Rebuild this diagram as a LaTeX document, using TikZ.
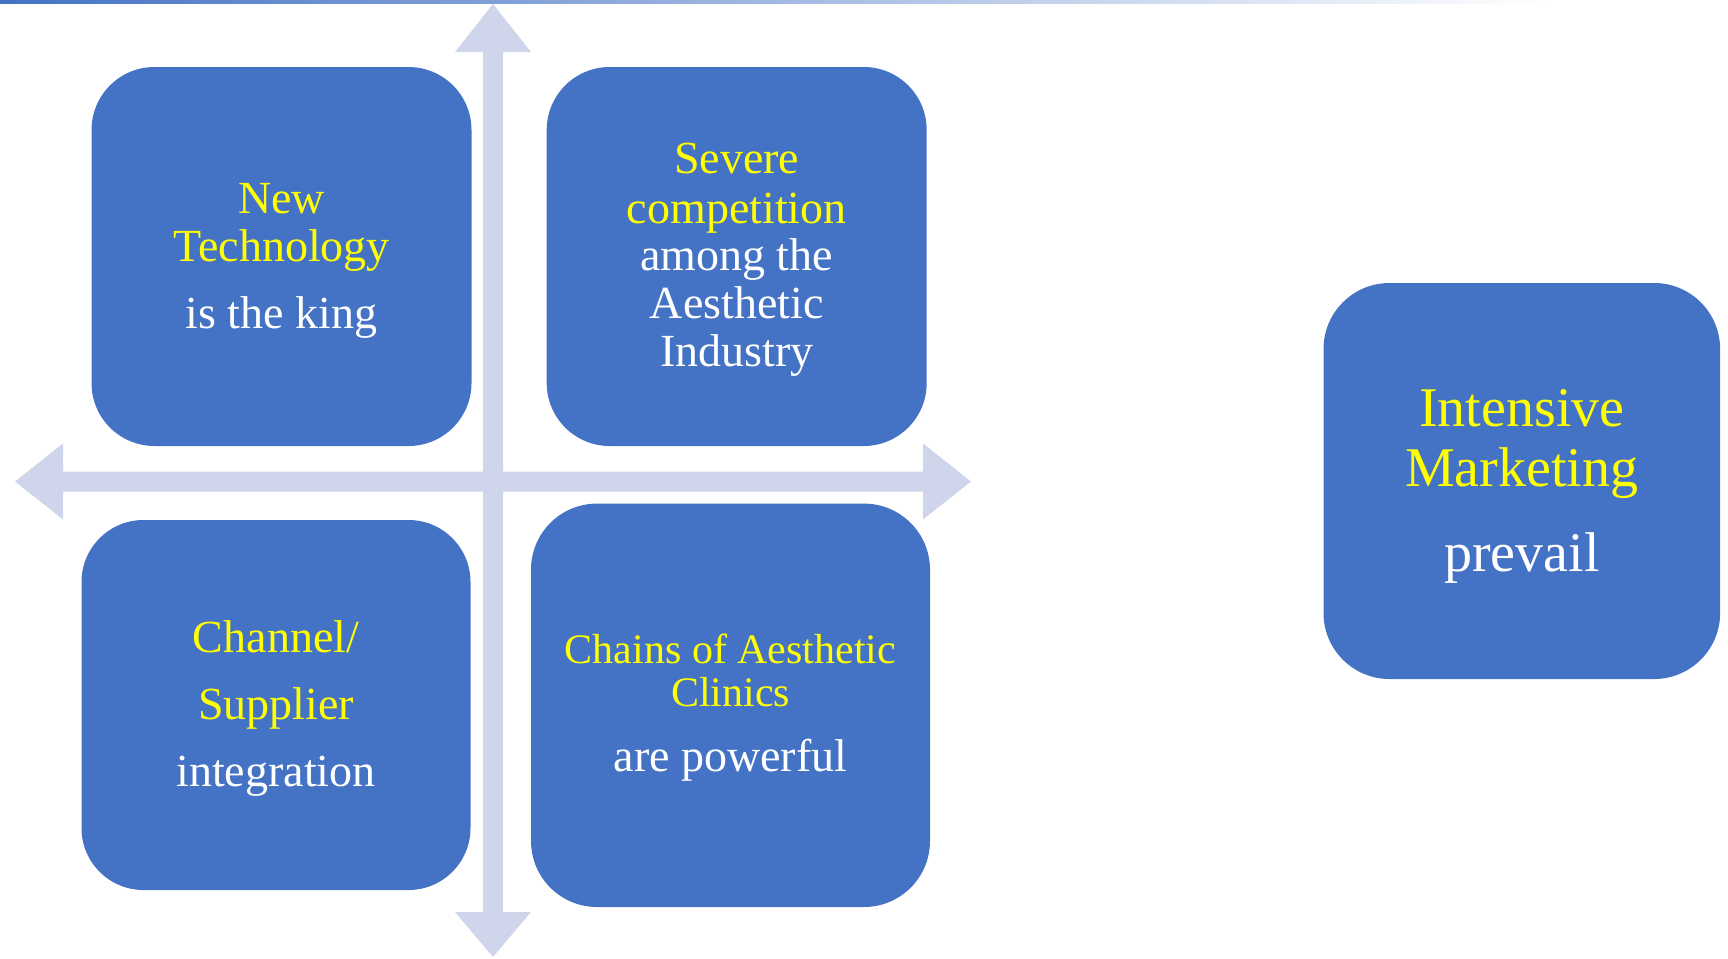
\documentclass[tikz,border=0pt]{standalone}
\usepackage{fontspec}
\setmainfont{Liberation Serif}
\definecolor{boxblue}{HTML}{4472C4}
\definecolor{arrowc}{HTML}{CFD5EA}
\definecolor{txtyellow}{HTML}{FFFF00}
\begin{document}
\begin{tikzpicture}[x=0.5pt,y=-0.5pt,
  box/.style={fill=boxblue, draw=none, rectangle, rounded corners=31.5pt, inner sep=0pt},
  yl/.style={text=txtyellow, inner sep=0pt, anchor=base, font=\fontsize{23}{27}\selectfont},
  wl/.style={text=white, inner sep=0pt, anchor=base, font=\fontsize{23}{27}\selectfont},
  ylsmall/.style={yl, font=\fontsize{21}{25}\selectfont},
  ylbig/.style={yl, font=\fontsize{28}{33}\selectfont},
  wlbig/.style={wl, font=\fontsize{28}{33}\selectfont}]
\useasboundingbox (0,0) rectangle (1728,958);
% top gradient rule
\shade[left color=boxblue, right color=white] (0,0) rectangle (1550,3.3);
% axes arrows
\fill[arrowc] (493,4) -- (531,52) -- (503,52) -- (503,912) -- (531,912) -- (493,957)
  -- (455,912) -- (483,912) -- (483,52) -- (455,52) -- cycle;
\fill[arrowc] (15,481.5) -- (63,443.5) -- (63,471.5) -- (923,471.5) -- (923,443.5) -- (971,481.5)
  -- (923,519.5) -- (923,491.5) -- (63,491.5) -- (63,519.5) -- cycle;
% boxes
\node[box, minimum width=190pt, minimum height=189.5pt] (tl) at (281.5,256.5) {};
\node[box, minimum width=190pt, minimum height=189.5pt] (tr) at (736.7,256.5) {};
\node[box, minimum width=194.5pt, minimum height=185pt, rounded corners=31pt] (bl) at (276,705) {};
\node[box, minimum width=199.5pt, minimum height=201.7pt, rounded corners=33pt] (br) at (730.5,705.3) {};
\node[box, minimum width=198.3pt, minimum height=198pt, rounded corners=33pt] (rt) at (1521.8,481) {};
% top-left text
\node[yl] (tl1) at (281.5,213) {New};
\node[yl] (tl2) at (281.5,261.7) {Technology};
\node[wl] (tl3) at (281.5,328) {is the king};
% top-right text
\node[yl] (tr1) at (736.7,173.3) {Severe};
\node[yl] (tr2) at (736.7,223.3) {competition};
\node[wl] (tr3) at (736.7,270) {among the};
\node[wl] (tr4) at (736.7,318.3) {Aesthetic};
\node[wl] (tr5) at (736.7,366.7) {Industry};
% bottom-left text
\node[yl] (bl1) at (276,652.3) {Channel/};
\node[yl] (bl2) at (276,719) {Supplier};
\node[wl] (bl3) at (276,786.7) {integration};
% bottom-right text
\node[ylsmall] (br1) at (730.5,663.3) {Chains of Aesthetic};
\node[ylsmall] (br2) at (730.5,706.7) {Clinics};
\node[wl] (br3) at (730.5,771.7) {are powerful};
% right box text
\node[ylbig] (rt1) at (1521.8,426) {Intensive};
\node[ylbig] (rt2) at (1521.8,486.7) {Marketing};
\node[wlbig] (rt3) at (1521.8,571.7) {prevail};
\end{tikzpicture}
\end{document}
